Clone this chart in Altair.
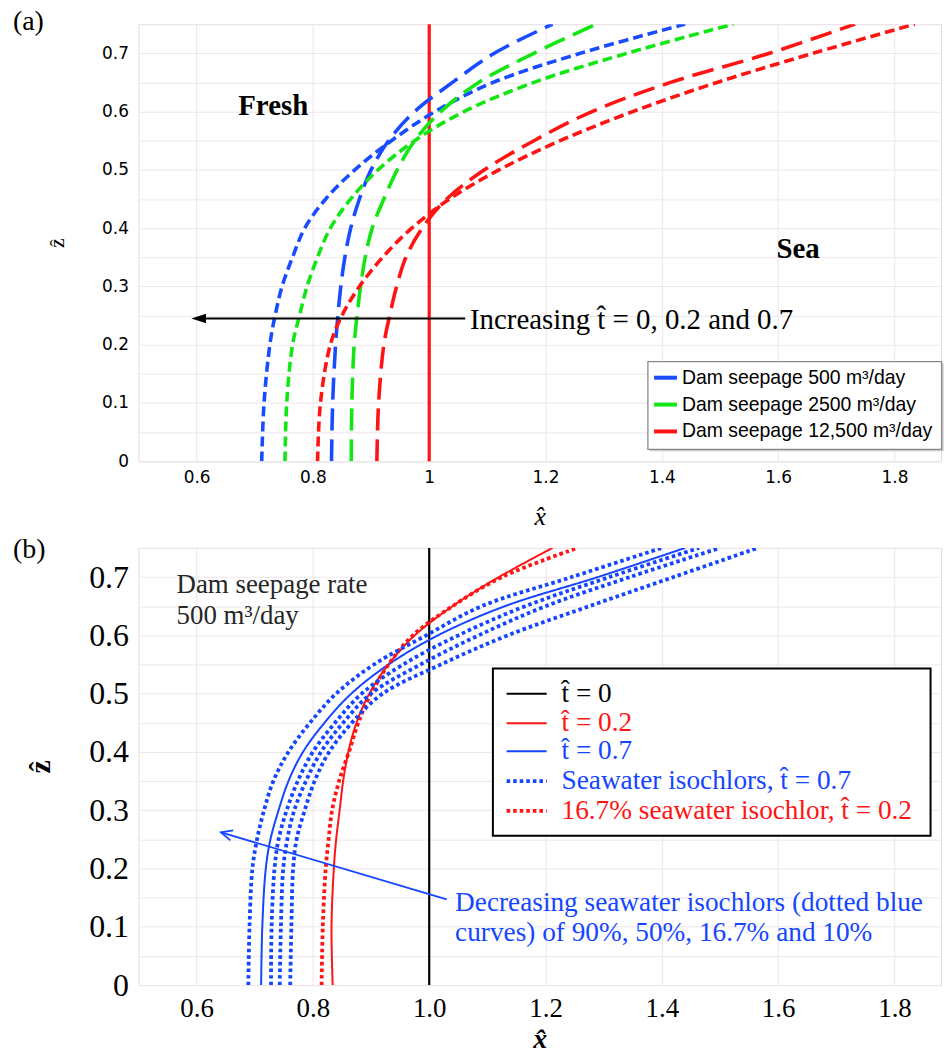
import altair as alt
import pandas as pd

# ---------------- data ----------------
Z = [0, 0.1, 0.2, 0.25, 0.3, 0.35, 0.4, 0.45, 0.5, 0.55, 0.6, 0.65, 0.7, 0.75]

# panel (a): interface positions x(z) for three dam seepage rates, t=0.2 and t=0.7
a_seep = ["500", "2500", "12500"]
a_seep_colors = ["#1a4cff", "#14e614", "#ff1414"]
a_500_t02 = [0.832, 0.834, 0.839, 0.843, 0.848, 0.855, 0.865, 0.880, 0.900, 0.930, 0.975, 1.040, 1.112, 1.212]
a_500_t07 = [0.712, 0.716, 0.726, 0.735, 0.747, 0.765, 0.786, 0.822, 0.872, 0.935, 1.010, 1.110, 1.260, 1.440]
a_2500_t02 = [0.866, 0.867, 0.871, 0.876, 0.882, 0.890, 0.902, 0.922, 0.945, 0.975, 1.020, 1.085, 1.180, 1.287]
a_2500_t07 = [0.752, 0.755, 0.765, 0.777, 0.790, 0.808, 0.830, 0.865, 0.912, 0.975, 1.060, 1.180, 1.340, 1.523]
a_12500_t02 = [0.910, 0.913, 0.922, 0.932, 0.944, 0.960, 0.988, 1.030, 1.095, 1.180, 1.280, 1.415, 1.585, 1.732]
a_12500_t07 = [0.808, 0.813, 0.830, 0.850, 0.880, 0.920, 0.970, 1.035, 1.120, 1.225, 1.350, 1.495, 1.660, 1.835]
a_t0_x = 1.0
a_legend_labels = ["Dam seepage 500 m³/day", "Dam seepage 2500 m³/day", "Dam seepage 12,500 m³/day"]

# panel (b): seepage 500 m3/day
b_t02 = [0.834, 0.832, 0.836, 0.840, 0.846, 0.852, 0.861, 0.875, 0.897, 0.930, 0.975, 1.040, 1.120, 1.212]
b_t07 = [0.711, 0.713, 0.719, 0.727, 0.741, 0.758, 0.783, 0.820, 0.866, 0.930, 1.015, 1.130, 1.290, 1.440]
b_iso167_t02 = [0.815, 0.817, 0.822, 0.827, 0.833, 0.845, 0.862, 0.878, 0.900, 0.930, 0.972, 1.040, 1.125, 1.255]
b_iso_10 = [0.689, 0.691, 0.696, 0.704, 0.716, 0.732, 0.758, 0.795, 0.840, 0.905, 0.995, 1.090, 1.245, 1.400]
b_iso_167 = [0.728, 0.729, 0.734, 0.741, 0.755, 0.774, 0.800, 0.838, 0.884, 0.955, 1.050, 1.165, 1.310, 1.464]
b_iso_50 = [0.743, 0.745, 0.749, 0.756, 0.768, 0.788, 0.814, 0.852, 0.900, 0.985, 1.085, 1.200, 1.345, 1.500]
b_iso_90 = [0.761, 0.763, 0.766, 0.772, 0.786, 0.803, 0.828, 0.867, 0.920, 1.020, 1.135, 1.275, 1.420, 1.565]
b_t0_x = 1.0
b_legend_labels = ["t\u0302 = 0", "t\u0302 = 0.2", "t\u0302 = 0.7",
                   "Seawater isochlors, t\u0302 = 0.7", "16.7% seawater isochlor, t\u0302 = 0.2"]
b_legend_cols = ["k", "r", "b", "b", "r"]
b_legend_styles = ["solid", "solid", "solid", "dotted", "dotted"]
b_cols = ["k", "r", "b"]
b_col_values = ["#000000", "#ff1414", "#1446ff"]

SERIF = "Liberation Serif, Times New Roman, serif"
SANS_AX = "DejaVu Sans, sans-serif"
SANS = "Liberation Sans, Arial, sans-serif"

XDOM = [0.5, 1.88]
grid_color = "#efe5ea"

# ---------------- panel (a) ----------------
rows = []
for seep, t, xs in [("500", "0.2", a_500_t02), ("500", "0.7", a_500_t07),
                    ("2500", "0.2", a_2500_t02), ("2500", "0.7", a_2500_t07),
                    ("12500", "0.2", a_12500_t02), ("12500", "0.7", a_12500_t07)]:
    for i, (xv, zv) in enumerate(zip(xs, Z)):
        rows.append({"x": xv, "z": zv, "seep": seep, "t": t, "curve": seep + "_" + t, "i": i})
df_a = pd.DataFrame(rows)

xa = alt.X("x:Q", scale=alt.Scale(domain=XDOM, nice=False, zero=False),
           axis=alt.Axis(values=[0.6, 0.8, 1.0, 1.2, 1.4, 1.6, 1.8], format="~g", title="x\u0302",
                         labelFont=SANS_AX, labelFontSize=17, labelColor="black", labelPadding=8,
                         ticks=False, domain=False, gridColor=grid_color,
                         titleFont=SERIF, titleFontSize=26, titleFontStyle="italic",
                         titleFontWeight="normal", titlePadding=18))
ya = alt.Y("z:Q", scale=alt.Scale(domain=[0, 0.75], nice=False, zero=False),
           axis=alt.Axis(values=[round(0.05 * k, 2) for k in range(16)],
                         labelExpr="round(datum.value*100) % 10 == 0 ? datum.label : ''",
                         format="~g", title="\u1e91",
                         labelFont=SANS_AX, labelFontSize=17, labelColor="black", labelPadding=10,
                         ticks=False, domain=False, gridColor=grid_color,
                         titleFont=SERIF, titleFontSize=22, titleFontWeight="normal",
                         titlePadding=33))

color_a = alt.Color("seep:N", scale=alt.Scale(domain=a_seep, range=a_seep_colors), legend=None)

lines_a = alt.Chart(df_a).mark_line(strokeWidth=3.6, clip=True, interpolate="catmull-rom").encode(
    x=xa, y=ya, color=color_a,
    strokeDash=alt.StrokeDash("t:N", scale=alt.Scale(domain=["0.2", "0.7"], range=[[22, 9], [10, 5]]),
                              legend=None),
    detail="curve:N", order="i:Q")

rule_a = alt.Chart(pd.DataFrame({"x": [a_t0_x], "z": [0.0], "z2": [0.75]})).mark_rule(
    color="#ff1414", strokeWidth=3.2).encode(x=xa, y=ya, y2="z2:Q")

# arrow "Increasing t"
arrow_a = alt.Chart(pd.DataFrame({"x": [1.062, 0.60], "z": [0.245, 0.245], "i": [0, 1]})).mark_line(
    color="black", strokeWidth=2).encode(x=xa, y=ya, order="i:Q")
head_a = alt.Chart(pd.DataFrame({"x": [0.591], "z": [0.245]})).mark_point(
    shape="M0,0L1.7,-0.55L1.7,0.55Z", filled=True, color="black", opacity=1, size=300).encode(x=xa, y=ya)

texts_a = pd.DataFrame({
    "x": [0.6716, 1.597, 1.070],
    "z": [0.6095, 0.3637, 0.2425],
    "label": ["Fresh", "Sea", "Increasing t\u0302 = 0, 0.2 and 0.7"],
})
txt_a_bold = alt.Chart(texts_a.iloc[:2]).mark_text(
    align="left", baseline="middle", font=SERIF, fontSize=29, fontWeight="bold", color="black").encode(
    x=xa, y=ya, text="label:N")
txt_a_norm = alt.Chart(texts_a.iloc[2:]).mark_text(
    align="left", baseline="middle", font=SERIF, fontSize=29, color="black").encode(
    x=xa, y=ya, text="label:N")

# legend (a)
leg_box_a = pd.DataFrame({"x": [1.376], "x2": [1.881], "z": [0.171], "z2": [0.0205]})
leg_shadow_a = alt.Chart(leg_box_a).mark_rect(fill="#c8c8c8", xOffset=2, yOffset=2, x2Offset=2, y2Offset=2).encode(
    x=xa, x2="x2:Q", y=ya, y2="z2:Q")
leg_rect_a = alt.Chart(leg_box_a).mark_rect(fill="white", stroke="#8a8a8a", strokeWidth=1.3).encode(
    x=xa, x2="x2:Q", y=ya, y2="z2:Q")
leg_rows_a = pd.DataFrame({"x": [1.3866] * 3, "x2": [1.426] * 3, "xt": [1.4345] * 3,
                           "z": [0.1434, 0.0973, 0.0512], "seep": a_seep, "label": a_legend_labels})
leg_sw_a = alt.Chart(leg_rows_a).mark_rule(strokeWidth=4).encode(x=xa, x2="x2:Q", y=ya, color=color_a)
leg_tx_a = alt.Chart(leg_rows_a).mark_text(align="left", baseline="middle", font=SANS, fontSize=19.5,
                                           color="black").encode(
    x=alt.X("xt:Q", scale=alt.Scale(domain=XDOM, nice=False, zero=False)), y=ya, text="label:N")

tag_a = alt.Chart(pd.DataFrame({"t": ["(a)"]})).mark_text(
    align="left", baseline="middle", font=SERIF, fontSize=28, color="black").encode(
    x=alt.value(-126), y=alt.value(-2), text="t:N")

panel_a = alt.layer(rule_a, lines_a, arrow_a, head_a, txt_a_bold, txt_a_norm,
                    leg_shadow_a, leg_rect_a, leg_sw_a, leg_tx_a, tag_a).properties(width=806, height=439)

# ---------------- panel (b) ----------------
rows = []
for name, col, style, xs in [("t02", "r", "solid", b_t02), ("t07", "b", "solid", b_t07),
                             ("iso167_t02", "r", "dotted", b_iso167_t02),
                             ("iso10", "b", "dotted", b_iso_10), ("iso167", "b", "dotted", b_iso_167),
                             ("iso50", "b", "dotted", b_iso_50), ("iso90", "b", "dotted", b_iso_90)]:
    for i, (xv, zv) in enumerate(zip(xs, Z)):
        rows.append({"x": xv, "z": zv, "col": col, "style": style, "curve": name, "i": i})
df_b = pd.DataFrame(rows)

xb = alt.X("x:Q", scale=alt.Scale(domain=XDOM, nice=False, zero=False),
           axis=alt.Axis(values=[0.6, 0.8, 1.0, 1.2, 1.4, 1.6, 1.8], format=".1f", title="x\u0302",
                         labelFont=SERIF, labelFontSize=27, labelColor="black", labelPadding=11,
                         ticks=False, domain=False, gridColor=grid_color,
                         titleFont=SERIF, titleFontSize=28, titleFontStyle="italic",
                         titleFontWeight="bold", titlePadding=4))
yb = alt.Y("z:Q", scale=alt.Scale(domain=[0, 0.75], nice=False, zero=False),
           axis=alt.Axis(values=[round(0.05 * k, 2) for k in range(16)],
                         labelExpr="round(datum.value*100) % 10 == 0 ? datum.label : ''",
                         format="~g", title="\u1e91",
                         labelFont=SERIF, labelFontSize=32, labelColor="black", labelPadding=10,
                         ticks=False, domain=False, gridColor=grid_color,
                         titleFont=SERIF, titleFontSize=30, titleFontWeight="bold",
                         titlePadding=33))
color_b = alt.Color("col:N", scale=alt.Scale(domain=b_cols, range=b_col_values), legend=None)
dash_b = alt.StrokeDash("style:N", scale=alt.Scale(domain=["solid", "dotted"], range=[[1, 0], [3.6, 3]]),
                        legend=None)
width_b = alt.StrokeWidth("style:N", scale=alt.Scale(domain=["solid", "dotted"], range=[2.0, 3.8]),
                          legend=None)

lines_b = alt.Chart(df_b).mark_line(clip=True, interpolate="catmull-rom").encode(
    x=xb, y=yb, color=color_b, strokeDash=dash_b, strokeWidth=width_b, detail="curve:N", order="i:Q")
rule_b = alt.Chart(pd.DataFrame({"x": [b_t0_x], "z": [0.0], "z2": [0.75]})).mark_rule(
    color="black", strokeWidth=2.2).encode(x=xb, y=yb, y2="z2:Q")

arrow_b = alt.Chart(pd.DataFrame({"x": [1.030, 0.642], "z": [0.147, 0.262], "i": [0, 1]})).mark_line(
    color="#1446ff", strokeWidth=1.8).encode(x=xb, y=yb, order="i:Q")
head_b = alt.Chart(pd.DataFrame({"x": [0.642], "z": [0.262]})).mark_point(
    shape="M1.3,-0.6L0,0L1.3,0.6", filled=False, color="#1446ff", strokeWidth=1.8, opacity=1,
    size=300, angle=16).encode(x=xb, y=yb)

note_b = alt.Chart(pd.DataFrame({"x": [0.5655, 0.5655], "z": [0.6864, 0.6334],
                                 "label": ["Dam seepage rate", "500 m³/day"]})).mark_text(
    align="left", baseline="middle", font=SERIF, fontSize=27, color="#262626").encode(
    x=xb, y=yb, text="label:N")
note_b2 = alt.Chart(pd.DataFrame({"x": [1.0445, 1.0445], "z": [0.140, 0.0888],
                                  "label": ["Decreasing seawater isochlors (dotted blue",
                                            "curves) of 90%, 50%, 16.7% and 10%"]})).mark_text(
    align="left", baseline="middle", font=SERIF, fontSize=27.4, color="#1446ff").encode(
    x=xb, y=yb, text="label:N")

leg_box_b = pd.DataFrame({"x": [1.1095], "x2": [1.862], "z": [0.543], "z2": [0.256]})
leg_rect_b = alt.Chart(leg_box_b).mark_rect(fill="white", stroke="black", strokeWidth=2).encode(
    x=xb, x2="x2:Q", y=yb, y2="z2:Q")
leg_rows_b = pd.DataFrame({"x": [1.133] * 5, "x2": [1.202] * 5, "xt": [1.2275] * 5,
                           "z": [0.500, 0.449, 0.401, 0.350, 0.299],
                           "col": b_legend_cols, "style": b_legend_styles, "label": b_legend_labels})
leg_sw_b = alt.Chart(leg_rows_b).mark_rule().encode(
    x=xb, x2="x2:Q", y=yb, color=color_b, strokeDash=dash_b, strokeWidth=width_b)
leg_tx_b = alt.Chart(leg_rows_b).mark_text(align="left", baseline="middle", font=SERIF, fontSize=27.4).encode(
    x=alt.X("xt:Q", scale=alt.Scale(domain=XDOM, nice=False, zero=False)), y=yb, text="label:N",
    color=color_b)

tag_b = alt.Chart(pd.DataFrame({"t": ["(b)"]})).mark_text(
    align="left", baseline="middle", font=SERIF, fontSize=28, color="black").encode(
    x=alt.value(-126), y=alt.value(2), text="t:N")

panel_b = alt.layer(rule_b, lines_b, arrow_b, head_b, note_b, note_b2,
                    leg_rect_b, leg_sw_b, leg_tx_b, tag_b).properties(width=806, height=439)

chart = alt.vconcat(panel_a, panel_b, spacing=5).resolve_scale(
    color="independent", strokeDash="independent", strokeWidth="independent"
).properties(
    padding={"left": 12, "top": 5, "right": 0, "bottom": 0}
).configure_view(stroke="#5a5a5a", strokeWidth=1.2).configure(background="white")

chart.save("out.html", embed_options={"renderer": "svg", "actions": False})
